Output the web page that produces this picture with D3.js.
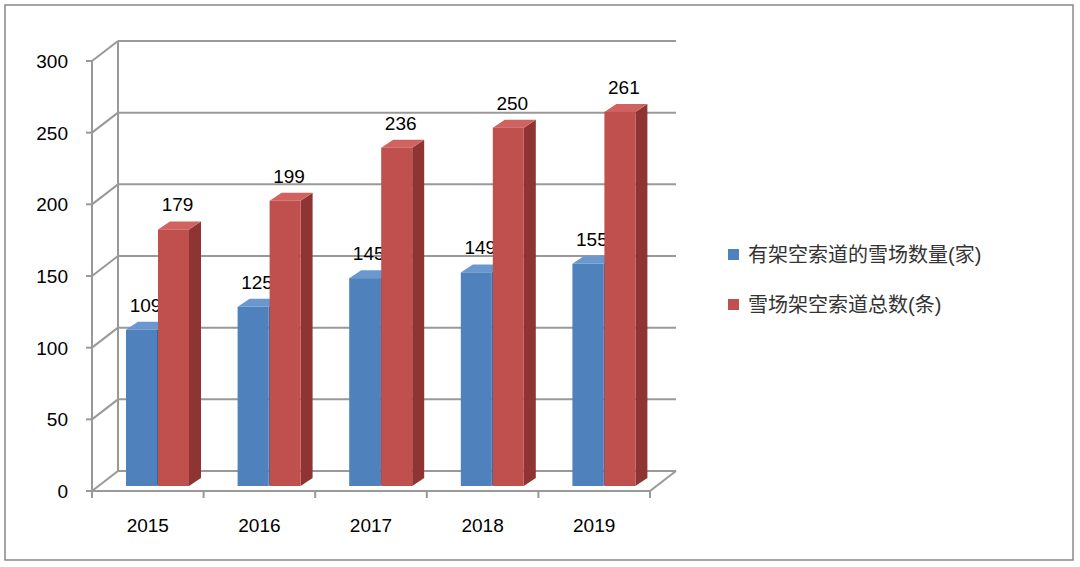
<!DOCTYPE html><html><head><meta charset="utf-8"><script src="https://cdn.jsdelivr.net/npm/d3@7"></script>
<style>body{margin:0;background:#fff}text{font-family:"Liberation Sans","Noto Sans CJK SC",sans-serif}</style></head><body>
<svg id="c" width="1080" height="567"></svg>
<script>
const years=["2015","2016","2017","2018","2019"];
const lifts=[109,125,145,149,155];
const cableways=[179,199,236,250,261];
const seriesNames=["有架空索道的雪场数量(家)","雪场架空索道总数(条)"];
const yTicks=[0,50,100,150,200,250,300];
const colors=[{f:"#4F81BD",t:"#6b97cf",s:"#3a6396"},{f:"#C0504D",t:"#d0625f",s:"#8e3533"}];
const svg=d3.select("#c");
svg.append("rect").attr("x",5).attr("y",5).attr("width",1068).attr("height",555).attr("fill","#fff").attr("stroke","#888").attr("stroke-width",1.5);
const x=d3.scaleBand().domain(years).range([92,650]);
const y=d3.scaleLinear().domain([0,300]).range([491,61]);
const DX=26,DY=-20;
// back wall grid
yTicks.forEach(t=>{
 svg.append("line").attr("x1",92+DX).attr("x2",650+DX).attr("y1",y(t)+DY).attr("y2",y(t)+DY).attr("stroke","#999").attr("stroke-width",2);
 svg.append("line").attr("x1",92).attr("x2",92+DX).attr("y1",y(t)).attr("y2",y(t)+DY).attr("stroke","#999").attr("stroke-width",2);
});
svg.append("line").attr("x1",92+DX).attr("x2",92+DX).attr("y1",y(0)+DY).attr("y2",y(300)+DY).attr("stroke","#999").attr("stroke-width",2);
svg.append("line").attr("x1",650).attr("x2",650+DX).attr("y1",y(0)).attr("y2",y(0)+DY).attr("stroke","#999").attr("stroke-width",2);
// front axes
svg.append("line").attr("x1",92).attr("x2",92).attr("y1",y(0)).attr("y2",y(300)).attr("stroke","#999").attr("stroke-width",2);
svg.append("line").attr("x1",92).attr("x2",650).attr("y1",y(0)).attr("y2",y(0)).attr("stroke","#999").attr("stroke-width",2);
yTicks.forEach(t=>{
 svg.append("line").attr("x1",86).attr("x2",92).attr("y1",y(t)).attr("y2",y(t)).attr("stroke","#999").attr("stroke-width",2);
 svg.append("text").attr("x",68).attr("y",y(t)+7).attr("text-anchor","end").attr("font-size",19).text(t);
});
years.forEach((yr,i)=>{
 const bx=x(yr);
 svg.append("line").attr("x1",bx).attr("x2",bx).attr("y1",y(0)).attr("y2",y(0)+7).attr("stroke","#999").attr("stroke-width",2);
 svg.append("text").attr("x",bx+x.bandwidth()/2).attr("y",532).attr("text-anchor","middle").attr("font-size",19).text(yr);
});
svg.append("line").attr("x1",650).attr("x2",650).attr("y1",y(0)).attr("y2",y(0)+7).attr("stroke","#999").attr("stroke-width",2);
// bars
const bw=31,dx=12,dy=-8,sx=4,sy=-5;
[lifts,cableways].forEach((vals,s)=>{
 vals.forEach((v,i)=>{
  const x0=x(years[i])+30+s*(bw+1)+sx, x1=x0+bw, yb=y(0)+sy, yt=y(v)+sy;
  const g=svg.append("g");
  g.append("path").attr("d",`M${x1},${yt}L${x1+dx},${yt+dy}L${x1+dx},${yb+dy}L${x1},${yb}Z`).attr("fill",colors[s].s);
  g.append("path").attr("d",`M${x0},${yt}L${x0+dx},${yt+dy}L${x1+dx},${yt+dy}L${x1},${yt}Z`).attr("fill",colors[s].t);
  g.append("rect").attr("x",x0).attr("y",yt).attr("width",bw).attr("height",yb-yt).attr("fill",colors[s].f);
  svg.append("text").attr("x",x0+bw/2+4).attr("y",yt-18).attr("text-anchor","middle").attr("font-size",19).text(v);
 });
});
// legend
seriesNames.forEach((n,i)=>{
 const ly=260+i*50;
 svg.append("rect").attr("x",728).attr("y",ly-11).attr("width",11).attr("height",11).attr("fill",colors[i].f);
 svg.append("text").attr("x",748).attr("y",ly+2).attr("font-size",20).attr("fill","#333").text(n);
});
</script></body></html>
